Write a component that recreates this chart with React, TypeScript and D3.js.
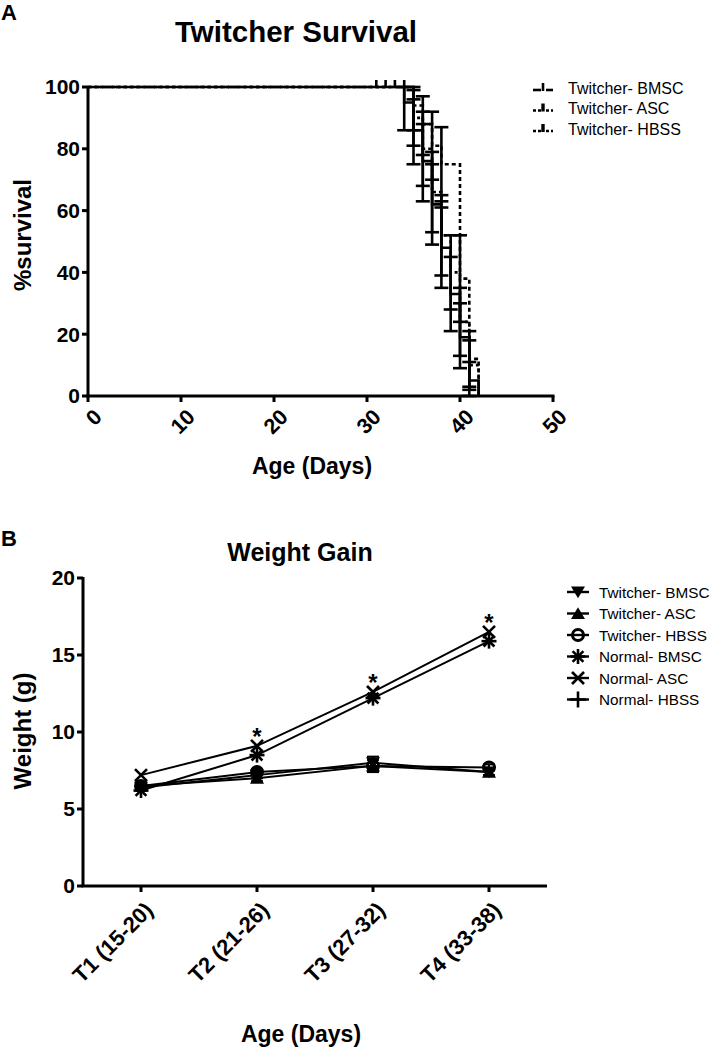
import React from 'react';
import * as d3 from 'd3';

const FONT = '"Liberation Sans", Arial, Helvetica, sans-serif';

// ---------- Panel A: Twitcher Survival ----------
const survTicksX = [0, 10, 20, 30, 40, 50];
const survTicksY = [0, 20, 40, 60, 80, 100];

const bmscDays = [0, 34, 35, 36, 37, 38, 39, 40, 41, 42];
const bmscSurv = [100, 95, 86, 76, 62, 48, 33, 19, 5, 0];
const bmscLo = [100, 86, 75, 63, 49, 35, 21, 9, 0, 0];
const bmscHi = [100, 100, 96, 88, 75, 61, 45, 30, 11, 0];

const ascDays = [0, 35, 36, 37, 38, 40, 41, 42];
const ascSurv = [100, 94, 88, 81, 75, 38, 12, 0];
const ascLo = [100, 86, 78, 70, 63, 24, 3, 0];
const ascHi = [100, 100, 97, 92, 87, 52, 21, 0];

const hbssDays = [0, 35, 36, 37, 38, 39, 40, 41, 42];
const hbssSurv = [100, 90, 80, 66, 52, 40, 24, 10, 0];
const hbssLo = [100, 81, 68, 53, 39, 28, 13, 2, 0];
const hbssHi = [100, 99, 92, 79, 65, 52, 35, 18, 0];

const censorDays = [31, 32, 33, 34];
const survLegend = ['Twitcher- BMSC', 'Twitcher- ASC', 'Twitcher- HBSS'];

// ---------- Panel B: Weight Gain ----------
const weightCats = ['T1 (15-20)', 'T2 (21-26)', 'T3 (27-32)', 'T4 (33-38)'];
const weightTicksY = [0, 5, 10, 15, 20];
const twBmsc = [6.4, 7.2, 8.0, 7.4];
const twAsc = [6.5, 7.0, 7.8, 7.4];
const twHbss = [6.5, 7.4, 7.8, 7.7];
const nBmsc = [6.2, 8.5, 12.2, 15.9];
const nAsc = [7.2, 9.1, 12.6, 16.5];
const twErr = [0.2, 0.2, 0.4, 0.2];
const sigIdx = [1, 2, 3];
const weightLegend = ['Twitcher- BMSC', 'Twitcher- ASC', 'Twitcher- HBSS', 'Normal- BMSC', 'Normal- ASC', 'Normal- HBSS'];
const weightMarkers = ['tri-down', 'tri-up', 'circle', 'star', 'x', 'plus'];

function Marker({ type, x, y }: { type: string; x: number; y: number }) {
  const s = 7;
  if (type === 'tri-down')
    return <path d={`M${x - s},${y - s * 0.8}L${x + s},${y - s * 0.8}L${x},${y + s * 0.9}Z`} fill="#000" />;
  if (type === 'tri-up')
    return <path d={`M${x - s},${y + s * 0.8}L${x + s},${y + s * 0.8}L${x},${y - s * 0.9}Z`} fill="#000" />;
  if (type === 'circle') return <circle cx={x} cy={y} r={5.5} fill="none" stroke="#000" strokeWidth={3} />;
  if (type === 'star') {
    const r = 7.5;
    const d = r * 0.72;
    return (
      <g stroke="#000" strokeWidth={2.6}>
        <line x1={x - r} y1={y} x2={x + r} y2={y} />
        <line x1={x} y1={y - r} x2={x} y2={y + r} />
        <line x1={x - d} y1={y - d} x2={x + d} y2={y + d} />
        <line x1={x - d} y1={y + d} x2={x + d} y2={y - d} />
      </g>
    );
  }
  if (type === 'x') {
    const d = 6;
    return (
      <g stroke="#000" strokeWidth={2.6}>
        <line x1={x - d} y1={y - d} x2={x + d} y2={y + d} />
        <line x1={x - d} y1={y + d} x2={x + d} y2={y - d} />
      </g>
    );
  }
  const r = 8;
  return (
    <g stroke="#000" strokeWidth={2.6}>
      <line x1={x - r} y1={y} x2={x + r} y2={y} />
      <line x1={x} y1={y - r} x2={x} y2={y + r} />
    </g>
  );
}

export default function App() {
  // Panel A scales
  const xA = d3.scaleLinear().domain([0, 50]).range([88, 553]);
  const yA = d3.scaleLinear().domain([0, 100]).range([396, 87]);
  const step = d3
    .line<[number, number]>()
    .x((d) => xA(d[0]))
    .y((d) => yA(d[1]))
    .curve(d3.curveStepAfter);

  const curves = [
    { days: bmscDays, surv: bmscSurv, lo: bmscLo, hi: bmscHi, dash: undefined as string | undefined },
    { days: ascDays, surv: ascSurv, lo: ascLo, hi: ascHi, dash: '4,3' },
    { days: hbssDays, surv: hbssSurv, lo: hbssLo, hi: hbssHi, dash: '3,3' },
  ];

  // Panel B scales
  const xB = d3.scaleLinear().domain([0.5, 4.5]).range([83, 547]);
  const yB = d3.scaleLinear().domain([0, 20]).range([886, 578]);
  const lineB = d3
    .line<number>()
    .x((_, i) => xB(i + 1))
    .y((d) => yB(d));
  const series = [
    { vals: twBmsc, m: 'tri-down', err: twErr },
    { vals: twAsc, m: 'tri-up', err: twErr },
    { vals: twHbss, m: 'circle', err: twErr },
    { vals: nBmsc, m: 'star', err: null },
    { vals: nAsc, m: 'x', err: null },
  ];

  const bold = { fontFamily: FONT, fontWeight: 700 as const };

  return (
    <svg width={714} height={1050} style={{ position: 'absolute', left: 0, top: 0, background: '#fff' }}>
      <rect width={714} height={1050} fill="#fff" />
      {/* ===== Panel A ===== */}
      <text x={1} y={20} fontSize={22} {...bold}>A</text>
      <text x={296} y={42} fontSize={29.5} textAnchor="middle" {...bold}>Twitcher Survival</text>

      {/* curves */}
      {curves.map((c, ci) => {
        const pts: [number, number][] = c.days.map((d, i) => [d, c.surv[i]]);
        return (
          <g key={ci}>
            <path d={step(pts) || ''} fill="none" stroke="#000" strokeWidth={2.6} strokeDasharray={c.dash} />
            {c.days.map((d, i) =>
              i === 0 || c.surv[i] === 0 ? null : (
                <g key={i} stroke="#000" strokeWidth={2.6}>
                  <line x1={xA(d)} x2={xA(d)} y1={yA(c.lo[i])} y2={yA(c.hi[i])} />
                  <line x1={xA(d) - 7} x2={xA(d) + 7} y1={yA(c.lo[i])} y2={yA(c.lo[i])} />
                  <line x1={xA(d) - 7} x2={xA(d) + 7} y1={yA(c.hi[i])} y2={yA(c.hi[i])} />
                </g>
              )
            )}
          </g>
        );
      })}
      {censorDays.map((d) => (
        <line key={d} x1={xA(d)} x2={xA(d)} y1={yA(100) - 7} y2={yA(100)} stroke="#000" strokeWidth={2.6} />
      ))}

      {/* axes A */}
      <line x1={xA(0)} x2={xA(0)} y1={yA(0)} y2={yA(100) - 1} stroke="#000" strokeWidth={3} />
      <line x1={xA(0) - 1.5} x2={xA(50) + 1.5} y1={yA(0)} y2={yA(0)} stroke="#000" strokeWidth={3} />
      {survTicksY.map((t) => (
        <g key={t}>
          <line x1={xA(0) - 6} x2={xA(0)} y1={yA(t)} y2={yA(t)} stroke="#000" strokeWidth={3} />
          <text x={xA(0) - 8} y={yA(t)} dy="0.35em" fontSize={21} textAnchor="end" {...bold}>{t}</text>
        </g>
      ))}
      {survTicksX.map((t) => (
        <g key={t}>
          <line x1={xA(t)} x2={xA(t)} y1={yA(0)} y2={yA(0) + 6} stroke="#000" strokeWidth={3} />
          <text
            transform={`translate(${xA(t) + 10},${yA(0) + 17}) rotate(-45)`}
            fontSize={21.5}
            textAnchor="end"
            dy="0.35em"
            {...bold}
          >
            {t}
          </text>
        </g>
      ))}
      <text transform={`translate(31,235) rotate(-90)`} fontSize={24} textAnchor="middle" {...bold}>%survival</text>
      <text x={312} y={474} fontSize={23} textAnchor="middle" {...bold}>Age (Days)</text>

      {/* legend A */}
      {survLegend.map((name, i) => {
        const y = 88 + i * 20.5;
        const dash = i === 0 ? undefined : '3,2';
        return (
          <g key={name}>
            <line x1={533} x2={541} y1={y + 2} y2={y + 2} stroke="#000" strokeWidth={2.6} strokeDasharray={dash} />
            <line x1={546} x2={553} y1={y + 2} y2={y + 2} stroke="#000" strokeWidth={2.6} strokeDasharray={dash} />
            <line x1={543} x2={543} y1={y - 5} y2={y + 3} stroke="#000" strokeWidth={i === 0 ? 2.6 : 3.4} />
            <text x={568} y={y} dy="0.36em" fontSize={16} fontFamily={FONT}>{name}</text>
          </g>
        );
      })}

      {/* ===== Panel B ===== */}
      <text x={1} y={546} fontSize={22} {...bold}>B</text>
      <text x={300} y={561} fontSize={25} textAnchor="middle" {...bold}>Weight Gain</text>

      {series.map((s, si) => (
        <g key={si}>
          <path d={lineB(s.vals) || ''} fill="none" stroke="#000" strokeWidth={2} />
          {s.err &&
            s.vals.map((v, i) => (
              <g key={i} stroke="#000" strokeWidth={2}>
                <line x1={xB(i + 1)} x2={xB(i + 1)} y1={yB(v - s.err![i])} y2={yB(v + s.err![i])} />
                <line x1={xB(i + 1) - 6} x2={xB(i + 1) + 6} y1={yB(v - s.err![i])} y2={yB(v - s.err![i])} />
                <line x1={xB(i + 1) - 6} x2={xB(i + 1) + 6} y1={yB(v + s.err![i])} y2={yB(v + s.err![i])} />
              </g>
            ))}
          {s.vals.map((v, i) => (
            <Marker key={i} type={s.m} x={xB(i + 1)} y={yB(v)} />
          ))}
        </g>
      ))}
      {sigIdx.map((i) => (
        <text key={i} x={xB(i + 1)} y={yB(nAsc[i]) - 1} fontSize={24} textAnchor="middle" {...bold}>*</text>
      ))}

      {/* axes B */}
      <line x1={xB(0.5)} x2={xB(0.5)} y1={yB(0)} y2={yB(20) - 1} stroke="#000" strokeWidth={3} />
      <line x1={xB(0.5) - 1.5} x2={xB(4.5)} y1={yB(0)} y2={yB(0)} stroke="#000" strokeWidth={3} />
      {weightTicksY.map((t) => (
        <g key={t}>
          <line x1={xB(0.5) - 6} x2={xB(0.5)} y1={yB(t)} y2={yB(t)} stroke="#000" strokeWidth={3} />
          <text x={xB(0.5) - 8} y={yB(t)} dy="0.35em" fontSize={21} textAnchor="end" {...bold}>{t}</text>
        </g>
      ))}
      {weightCats.map((c, i) => (
        <g key={c}>
          <line x1={xB(i + 1)} x2={xB(i + 1)} y1={yB(0)} y2={yB(0) + 6} stroke="#000" strokeWidth={3} />
          <text
            transform={`translate(${xB(i + 1) + 8},${yB(0) + 20}) rotate(-45)`}
            fontSize={22}
            textAnchor="end"
            dy="0.35em"
            {...bold}
          >
            {c}
          </text>
        </g>
      ))}
      <text transform={`translate(31,731) rotate(-90)`} fontSize={24} textAnchor="middle" {...bold}>Weight (g)</text>
      <text x={301} y={1042} fontSize={23} textAnchor="middle" {...bold}>Age (Days)</text>

      {/* legend B */}
      {weightLegend.map((name, i) => {
        const y = 592 + i * 21.5;
        return (
          <g key={name}>
            <line x1={567} x2={589} y1={y} y2={y} stroke="#000" strokeWidth={2.4} />
            <Marker type={weightMarkers[i]} x={578} y={y} />
            <text x={599} y={y} dy="0.36em" fontSize={15.3} fontFamily={FONT}>{name}</text>
          </g>
        );
      })}
    </svg>
  );
}
